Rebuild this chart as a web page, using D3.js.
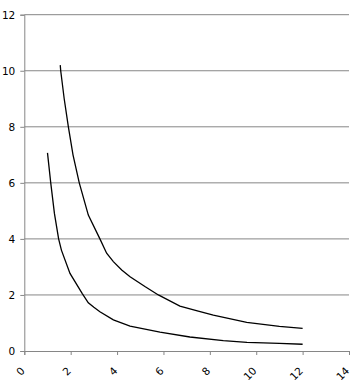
<!DOCTYPE html>
<html>
<head>
<meta charset="utf-8">
<script src="https://cdn.jsdelivr.net/npm/d3@7"></script>
<style>
  body { margin: 0; background: #fff; }
  svg { display: block; }
  .tick text { font-family: "DejaVu Sans", sans-serif; font-size: 10.5px; fill: #000; }
</style>
</head>
<body>
<script>
// values
const lowerX = [1.0, 1.14, 1.3, 1.48, 1.6, 1.97, 2.5, 2.76, 3.0, 3.26, 3.84, 4.56, 5.85, 7.14, 8.58, 9.6, 11.0, 12.0];
const lowerY = [7.07, 6.0, 4.9, 4.0, 3.6, 2.77, 2.05, 1.72, 1.56, 1.40, 1.11, 0.89, 0.67, 0.50, 0.37, 0.31, 0.27, 0.24];
const upperX = [1.55, 1.57, 1.72, 1.90, 2.1, 2.37, 2.76, 3.26, 3.55, 3.84, 4.2, 4.56, 5.2, 5.78, 6.71, 7.5, 8.15, 9.59, 11.0, 12.0];
const upperY = [10.2, 10.0, 9.0, 8.0, 7.0, 6.0, 4.85, 4.0, 3.49, 3.19, 2.89, 2.65, 2.3, 2.0, 1.60, 1.42, 1.28, 1.02, 0.88, 0.81];
const xTicks = [0, 2, 4, 6, 8, 10, 12, 14];
const yTicks = [0, 2, 4, 6, 8, 10, 12];

const width = 361, height = 384;
const plotLeft = 24.3, plotRight = 349, plotTop = 14.7, plotBottom = 351;

const svg = d3.select("body").append("svg")
  .attr("width", width)
  .attr("height", height);

const x = d3.scaleLinear().domain([0, 14]).range([plotLeft, plotRight]);
const y = d3.scaleLinear().domain([0, 12]).range([plotBottom, plotTop]);

// horizontal grid
svg.append("g").selectAll("line")
  .data(yTicks.filter(d => d > 0))
  .enter().append("line")
  .attr("x1", plotLeft).attr("x2", plotRight)
  .attr("y1", d => y(d)).attr("y2", d => y(d))
  .attr("stroke", "#868686")
  .attr("stroke-width", 1);

const yAxis = d3.axisLeft(y).tickValues(yTicks).tickSize(4).tickPadding(5);
const gy = svg.append("g").attr("transform", `translate(${plotLeft},0)`).call(yAxis);
gy.select(".domain").attr("stroke", "#868686");
gy.selectAll(".tick line").attr("stroke", "#868686");

const xAxis = d3.axisBottom(x).tickValues(xTicks).tickSize(4).tickFormat(d3.format("d"));
const gx = svg.append("g").attr("transform", `translate(0,${plotBottom})`).call(xAxis);
gx.select(".domain").attr("stroke", "#868686");
gx.selectAll(".tick line").attr("stroke", "#868686");
gx.selectAll(".tick text")
  .attr("text-anchor", "end")
  .attr("dy", "0.35em")
  .attr("y", 0)
  .attr("transform", "translate(-2,18) rotate(-45)");

const line = d3.line().x(d => x(d[0])).y(d => y(d[1]));

const series = [
  d3.zip(lowerX, lowerY),
  d3.zip(upperX, upperY)
];

svg.append("g").selectAll("path")
  .data(series)
  .enter().append("path")
  .attr("d", line)
  .attr("fill", "none")
  .attr("stroke", "#000")
  .attr("stroke-width", 1.3);
</script>
</body>
</html>
